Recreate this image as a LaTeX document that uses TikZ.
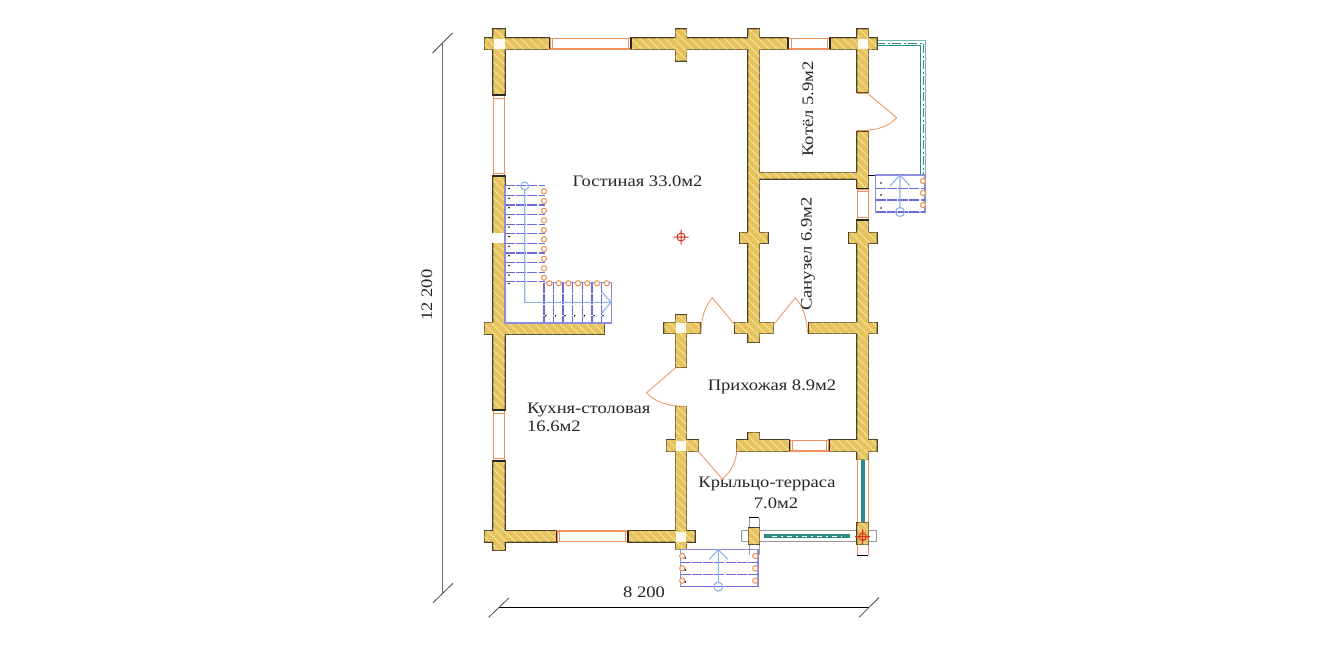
\documentclass[tikz,border=0pt]{standalone}
\usepackage{fontspec}
\setmainfont[FakeStretch=1.16]{Liberation Serif}
\usetikzlibrary{patterns.meta}
\definecolor{gold}{HTML}{E6C35C}
\definecolor{hatchc}{HTML}{F3E0A0}
\definecolor{wallline}{HTML}{4A4228}
\definecolor{winc}{HTML}{F0905A}
\definecolor{doorc}{HTML}{EE9A6A}
\definecolor{stepc}{HTML}{6A6AD8}
\definecolor{lightb}{HTML}{8FB2EA}
\definecolor{boxb}{HTML}{8C8CDC}
\definecolor{orangec}{HTML}{E89A60}
\definecolor{tealc}{HTML}{2E8B85}
\definecolor{tealb}{HTML}{4FA8A4}
\definecolor{greyc}{HTML}{9A9A9A}
\definecolor{redc}{HTML}{D8301C}
\newcommand\wallrects{
 (484.7,38.3) rectangle (549,49.3) (631,38.3) rectangle (788,49.3) (829.5,38.3) rectangle (876.7,49.3)
 (493.3,29.3) rectangle (504.7,95) (493.3,176) rectangle (504.7,410) (493.3,461) rectangle (504.7,550)
 (675.5,29.3) rectangle (686.5,60.7)
 (748.3,29.3) rectangle (759.3,342)
 (857.3,29.3) rectangle (868.3,92) (857.3,132) rectangle (868.3,188.3) (857.3,220) rectangle (868.3,459.5)
 (759,172.7) rectangle (857.5,178.7)
 (740,232.5) rectangle (767.7,243) (849,232.5) rectangle (876.7,243)
 (484.7,322.7) rectangle (604,334)
 (664.3,322.7) rectangle (700,333.3) (675.7,315) rectangle (686.3,367.3)
 (735,322.7) rectangle (773.3,333.3)
 (809,322.7) rectangle (876.7,333.3)
 (675.7,406.7) rectangle (686.3,549.5) (666.7,440) rectangle (698.3,451.3)
 (736.7,440) rectangle (789.5,451.3) (748.3,432.7) rectangle (759.3,451.3)
 (829.3,440) rectangle (876.7,451.3)
 (484.7,531) rectangle (556.7,541.7) (628,531) rectangle (694.7,541.7)
 (748.7,528) rectangle (759.3,544) (857.3,522.7) rectangle (868.3,544.3)
}
\tikzset{
 wallfill/.style={preaction={fill=gold},pattern={Lines[angle=-45,distance=6pt,line width=1pt]},pattern color=hatchc},
 winbox/.style={draw=winc,fill=white,line width=1.5pt},
 winbar/.style={draw=winc,line width=1pt},
 jamb/.style={draw=black!85,line width=1.5pt},
 doorline/.style={draw=doorc,line width=.9pt},
 stepline/.style={draw=stepc,line width=1.2pt,dash pattern=on 10pt off 1.2pt},
 arrowline/.style={draw=lightb,line width=1.1pt},
 stepbox/.style={draw=boxb,line width=1.3pt},
 nosing/.style={draw=orangec,fill=white,line width=1.1pt},
 stepdot/.style={fill=black},
 dimline/.style={draw=black!70,line width=.8pt},
 roomlabel/.style={font=\fontsize{16}{16}\selectfont,inner sep=0pt,text=black!85},
}
\newcommand\winH[3]{% x1 x2 y-centre
 \path[winbox] (#1,#3-5.3) rectangle (#2,#3+5.3);
 \path[winbar] (#1+2.5,#3-5.3) -- (#1+2.5,#3+5.3) (#2-2.5,#3-5.3) -- (#2-2.5,#3+5.3);
 \path[jamb] (#1-.3,#3-5.5) -- (#1-.3,#3+5.5) (#2+.3,#3-5.5) -- (#2+.3,#3+5.5);}
\newcommand\winV[3]{% y1 y2 x-centre
 \path[winbox] (#3-5.5,#1) rectangle (#3+5.5,#2);
 \path[winbar] (#3-5.5,#1+2.5) -- (#3+5.5,#1+2.5) (#3-5.5,#2-2.5) -- (#3+5.5,#2-2.5);
 \path[jamb] (#3-5.7,#1-.3) -- (#3+5.7,#1-.3) (#3-5.7,#2+.3) -- (#3+5.7,#2+.3);}
\newcommand\target[3]{% x y r
 \draw[redc,line width=1pt] (#1,#2) circle (#3) (#1-7.5,#2) -- (#1+7.5,#2) (#1,#2-7.5) -- (#1,#2+7.5);}
\begin{document}
\begin{tikzpicture}[x=1pt,y=-1pt]
\useasboundingbox (0,0) rectangle (1344,646);
\fill[white] (0,0) rectangle (1344,646);

% terrace rail and white pillar extensions
\draw[greyc,fill=white,line width=1.2pt] (741.7,530.7) rectangle (876.7,541.7);
\draw[greyc,line width=1pt] (749,517.7) -- (749,555) (759,517.7) -- (759,555);
\draw[black,line width=1pt] (748.7,517.7) -- (759.3,517.7);
\draw[winc,line width=1pt] (857.6,459) -- (857.6,555) (868.2,459) -- (868.2,555);
\draw[black,line width=1pt] (857.3,555) -- (868.3,555);
\fill[tealc] (861,459) rectangle (864.7,522.7);
\fill[tealc] (764,534.3) rectangle (850,538);
\draw[white,line width=.8pt,dash pattern=on 5pt off 4pt on 2pt off 4pt] (772,536.1) -- (842,536.1);

% side glazing
\draw[tealb!80,line width=1pt,line join=miter] (876,40.7) -- (925.2,40.7) -- (925.2,175);
\draw[tealc,line width=1pt,line join=miter] (876,45.3) -- (920.8,45.3) -- (920.8,175);
\draw[tealc,line width=.9pt,dash pattern=on 9pt off 2.5pt on 2pt off 2.5pt] (876,43) -- (923,43) -- (923,175);

% walls
\draw[wallline,line width=1.9pt] \wallrects;
\path[wallfill] \wallrects;

% white junction squares
\fill[white,opacity=.9] (493.5,38.5) rectangle (504.5,49.3);
\fill[white,opacity=.9] (857.5,38.5) rectangle (868.3,49.3);
\fill[white,opacity=.9] (676,323) rectangle (686,333);
\fill[white,opacity=.9] (676,440.5) rectangle (686,451);
\fill[white,opacity=.9] (676,531.5) rectangle (686,541.5);
\fill[white] (492,232.7) rectangle (505.5,242.7);

% windows
\winH{550}{630.5}{43.8}
\winH{788.5}{829.5}{43.8}
\winH{790}{829}{445.8}
\winH{557}{627.5}{536.3}
\winV{95.5}{175.5}{499}
\winV{410.5}{460.5}{499}
\winV{188.8}{219.5}{862.8}

% doors
\path[doorline] (701,333) .. controls (701.5,315) and (706,305) .. (712.3,297.7) -- (735,325);
\path[doorline] (773.3,325) -- (795.3,297.7) .. controls (802,305) and (807,317) .. (807.5,333);
\path[doorline] (676,367.3) -- (646.7,392.7) .. controls (654,401) and (665,406) .. (686,406.5);
\path[doorline] (698.3,451.3) -- (722.3,479) .. controls (730,473) and (736,463) .. (736.7,451.3);
\path[doorline] (868.3,94) -- (896.7,117.7) .. controls (889,126) and (879,130.5) .. (858,130.7);
\draw[winc,line width=1pt] (857.3,93.5) -- (868.3,93.5) (857.3,130.7) -- (868.3,130.7);

% main stair
\foreach \y in {185.7,195.4,205,214.6,224.2,233.8,243.4,253,262.6,272.2,281.8}
  \path[stepline] (505,\y) -- (545,\y);
\foreach \x in {544,553.5,563,572.7,582.3,592,601.5,611.3}
  \path[stepline] (\x,282.5) -- (\x,323);
\draw[stepbox] (505,185.7) -- (505,323) -- (611.3,323) -- (611.3,282.5) -- (545,282.5);
\path[arrowline] (524.7,190) -- (524.7,302.3) -- (611,302.3) (601.7,291.7) -- (611,302.3) -- (601.7,313);
\draw[lightb,line width=1.1pt] (524.7,186) circle (4);
\foreach \y in {191.3,201,210.7,220.3,230,239.3,249,258.7,268.3,277.7}
  \path[nosing] (544,\y) circle (2.6);
\foreach \x in {549.3,558.7,568.3,578,587.3,597,606.7}
  \path[nosing] (\x,283.3) circle (2.6);
\foreach \y in {188.5,198.2,207.8,217.4,227,236.6,246.2,255.8,265.4,275,283.5}
  \fill[stepdot] (509,\y) circle (.9);
\foreach \x in {545.7,555.5,565,574.7,584.3,594,603}
  \fill[stepdot] (\x,315.7) circle (.9);

% upper right steps
\draw[black,line width=.9pt] (868,175) -- (876,175);
\draw[stepbox] (875.7,175) rectangle (925,212.3);
\foreach \y in {188.3,200,212} \path[stepline] (875.7,\y) -- (925,\y);
\path[arrowline] (900,208) -- (900,175) (890,186) -- (900,175) (910,186) -- (900,175);
\draw[lightb,line width=1.1pt] (900,212) circle (4.5);
\foreach \y in {181,193,205} \path[nosing] (923,\y) circle (2.6);
\foreach \y in {183,195,208} \fill[stepdot] (881,\y) circle (.9);

% front steps
\draw[stepbox] (680.7,549.3) rectangle (758,586.7);
\foreach \y in {562.3,574.7,586.7} \path[stepline] (680.7,\y) -- (758,\y);
\path[arrowline] (718.3,582) -- (718.3,549.5) (709.3,559.3) -- (718.3,549.5) (727.7,559.3) -- (718.3,549.5);
\draw[lightb,line width=1.1pt] (718.3,586.7) circle (4.5);
\foreach \y in {556,568.3,580.7} {\path[nosing] (682.3,\y) circle (2.6); \path[nosing] (755.3,\y) circle (2.6);}
\foreach \y in {558,570,582} \fill[stepdot] (685.3,\y) circle (.9);

% targets
\target{681}{237}{4}
\draw[orangec,line width=1.1pt] (862.7,536.7) circle (5);
\target{862.7}{536.7}{3.5}

% dimensions
\coordinate (dl1) at (442.5,43);
\coordinate (dl2) at (442.5,593);
\coordinate (db1) at (498.7,607.3);
\coordinate (db2) at (869,607.3);
\draw[greyc!70!black,line width=1.1pt] (dl1) -- (dl2);
\draw[black,line width=.9pt] (db1) -- (db2);
\path[dimline] (432.5,53) -- (452.5,33) (433,602.7) -- (453,583.3) (488.7,617.3) -- (508.7,598) (859,617.3) -- (879,597.5);

% labels
\node[roomlabel,rotate=90] (dimv) at (427,295) {12 200};
\node[roomlabel] (dimh) at (644,592) {8 200};
\node[roomlabel] (r1) at (637.5,181) {Гостиная 33.0м2};
\node[roomlabel,rotate=90] (r2) at (808,109) {Котёл 5.9м2};
\node[roomlabel,rotate=90] (r3) at (808,254) {Санузел 6.9м2};
\node[roomlabel] (r4) at (772,387) {Прихожая 8.9м2};
\node[roomlabel,anchor=west] (r5) at (527,410) {Кухня-столовая};
\node[roomlabel,anchor=west] (r5b) at (527,426) {16.6м2};
\node[roomlabel] (r6) at (767,484) {Крыльцо-терраса};
\node[roomlabel] (r6b) at (776,503) {7.0м2};
\end{tikzpicture}
\end{document}
